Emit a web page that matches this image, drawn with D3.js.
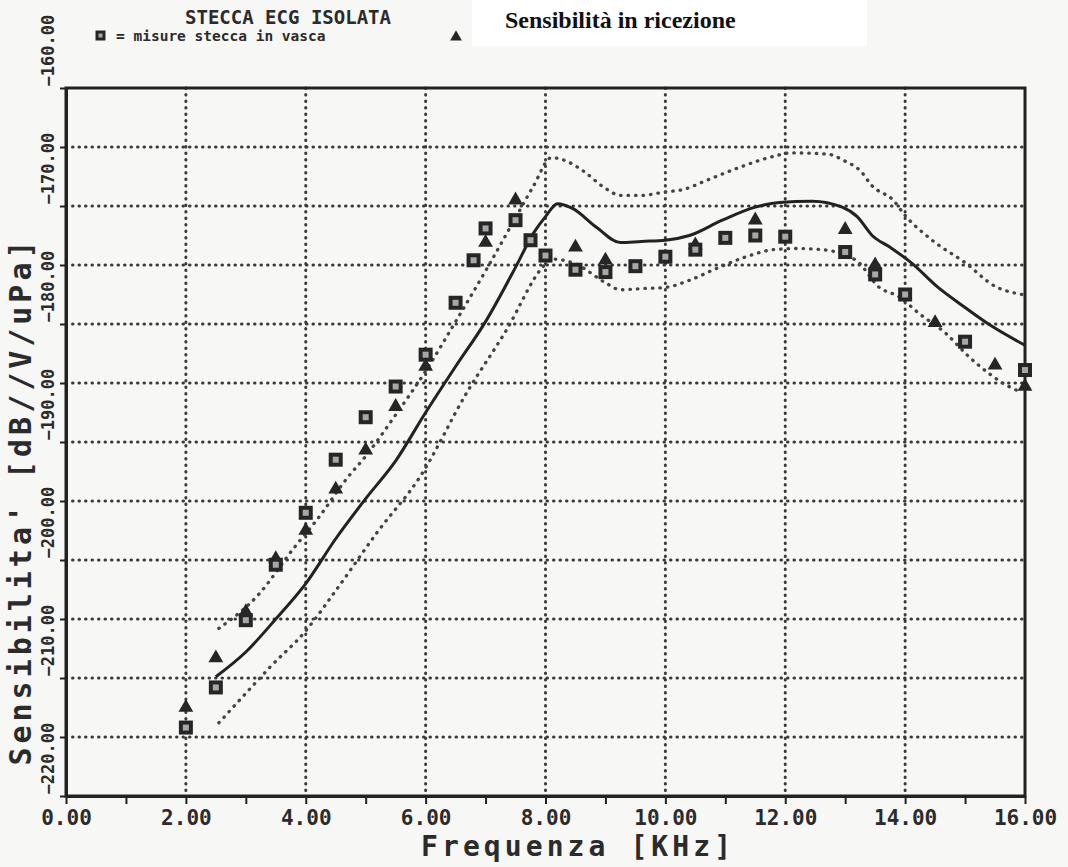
<!DOCTYPE html>
<html lang="it">
<head>
    <meta charset="UTF-8">
    <title>Sensibilità in ricezione</title>
    <script src="https://d3js.org/d3.v7.min.js"></script>
    <style>
        body{margin: 0; background: #f7f7f5}

        svg text{
            font-family: "DejaVu Sans Mono", "Liberation Mono", monospace;
            font-weight: bold;
            fill: #2b2b2b;
        }
        svg .grid line{
            stroke: #3a3a3a;
            stroke-width: 3;
            stroke-dasharray: 0.5 6;
            stroke-linecap: round;
        }
        svg .axis path.domain, svg .frame{
            fill: none;
            stroke: #222;
            stroke-width: 3;
        }
        svg .axis line{
            stroke: #222;
            stroke-width: 2;
        }
        svg .media{
            fill: none;
            stroke: #222;
            stroke-width: 3;
        }
        svg .banda{
            fill: none;
            stroke: #444;
            stroke-width: 3.3;
            stroke-dasharray: 0.5 7;
            stroke-linecap: round;
        }
        svg .quad{
            fill: #a8a8a8;
            stroke: #262626;
            stroke-width: 4;
        }
        svg .tri{
            fill: #262626;
        }
        svg text.titolo{
            font-family: "Liberation Serif", "DejaVu Serif", serif;
            fill: #111;
        }
    </style>
</head>
<body>
    <svg></svg>
    <script>
        // curva media (linea continua)
        var freqMedia = [2.5, 3, 3.5, 4, 4.5, 5, 5.5, 6, 6.5, 7, 7.5, 7.8, 8, 8.2, 8.45, 8.85, 9.25, 9.6, 10, 10.4,
            10.95, 11.5, 11.9, 12.45, 12.95, 13.2, 13.45, 13.75, 14.1, 14.55, 15, 15.45, 16]
        var sensMedia = [-209.9, -207.8, -205, -202, -198.2, -194.8, -191.6, -187.5, -183.6, -179.8, -175.2, -172.3, -170.9, -169.8, -170.2, -171.8, -173.1, -173, -172.9, -172.5,
            -171.2, -170.1, -169.7, -169.6, -170.1, -170.9, -172.5, -173.5, -174.8, -176.9, -178.6, -180.2, -181.8]

        // limite superiore (punteggiata)
        var freqSup = [2.55, 3.2, 3.8, 4.2, 4.7, 5, 5.5, 6, 6.5, 7, 7.5, 7.8, 8.1, 8.35, 8.62, 9, 9.25, 9.6, 10, 10.3,
            10.7, 11.2, 11.8, 12.1, 12.7, 13, 13.25, 13.45, 13.8, 14, 14.45, 15, 15.5, 15.95]
        var sensSup = [-205.8, -203, -199, -196.5, -193, -191.2, -187.7, -184, -179.8, -175.5, -171, -168.3, -165.9, -166.2, -167, -168.5, -169.1, -169.1, -168.8, -168.6,
            -167.8, -166.8, -165.8, -165.5, -165.6, -166.2, -167, -168.3, -169.5, -170.8, -172.9, -174.8, -176.8, -177.5]

        // limite inferiore (punteggiata)
        var freqInf = [2.55, 3, 3.4, 4, 4.5, 5.2, 5.9, 6.7, 7.35, 7.95, 8.1, 8.5, 9, 9.25, 9.6, 10, 10.4, 10.85, 11.35, 11.8,
            12.2, 12.62, 13.18, 13.57, 13.9, 14.23, 14.68, 15.07, 15.4, 15.73, 15.95]
        var sensInf = [-213.8, -211.3, -209.1, -206, -202.6, -197.6, -193, -185.7, -180.5, -175.2, -174.5, -174.9, -176.5, -177.1, -177, -176.9, -176.3, -175.3, -174.3, -173.7,
            -173.6, -173.7, -174.6, -176.9, -177.7, -179.1, -180.8, -182.8, -184.2, -185.3, -185.8]

        // misure stecca in vasca (quadrati)
        var quadF = [2, 2.5, 3, 3.5, 4, 4.5, 5, 5.5, 6, 6.5, 6.8, 7, 7.5, 7.75, 8, 8.5, 9, 9.5, 10, 10.5,
            11, 11.5, 12, 13, 13.5, 14, 15, 16]
        var quadDb = [-214.2, -210.8, -205.1, -200.4, -196, -191.5, -187.9, -185.3, -182.6, -178.2, -174.6, -171.9, -171.2, -172.9, -174.2, -175.4, -175.6, -175.1, -174.3, -173.7,
            -172.7, -172.5, -172.6, -173.9, -175.8, -177.5, -181.5, -183.9]

        // seconda serie di misure (triangoli)
        var triF = [2, 2.5, 3, 3.5, 4, 4.5, 5, 5.5, 6, 7, 7.5, 8.5, 9, 10.5, 11.5, 13, 13.5, 14.5, 15.5, 16]
        var triDb = [-212.5, -208.3, -204.4, -199.9, -197.5, -194, -190.7, -187, -183.6, -173.1, -169.5, -173.5, -174.6, -173.3, -171.2, -172, -175, -179.9, -183.5, -185.3]

        // tick
        var xTicks = d3.range(0, 17, 1)
        var yTicks = d3.range(-220, -159, 5)

        var W = 1068, H = 867
        var m = {left: 66, right: 1025, top: 88, bottom: 796}

        var svg = d3.select('svg')
            .attr('width', W)
            .attr('height', H)

        var x = d3.scaleLinear().domain([0, 16]).range([m.left, m.right])
        var y = d3.scaleLinear().domain([-220, -160]).range([m.bottom, m.top])

        // griglia punteggiata
        svg.append('g').attr('class', 'grid')
            .selectAll('line')
            .data(xTicks.filter(d => d % 2 === 0 && d > 0 && d < 16))
            .join('line')
            .attr('x1', d => x(d)).attr('x2', d => x(d))
            .attr('y1', m.top).attr('y2', m.bottom)
        svg.append('g').attr('class', 'grid')
            .selectAll('line')
            .data(yTicks.filter(d => d > -220 && d < -160))
            .join('line')
            .attr('x1', m.left).attr('x2', m.right)
            .attr('y1', d => y(d)).attr('y2', d => y(d))

        // cornice
        svg.append('rect').attr('class', 'frame')
            .attr('x', m.left).attr('y', m.top)
            .attr('width', m.right - m.left).attr('height', m.bottom - m.top)

        // assi
        var xAxis = d3.axisBottom(x)
            .tickValues(xTicks)
            .tickSize(8)
            .tickSizeOuter(0)
            .tickPadding(6)
            .tickFormat(d => d % 2 ? '' : d3.format('.2f')(d))
        svg.append('g').attr('class', 'axis')
            .attr('transform', `translate(0, ${m.bottom})`)
            .call(xAxis)
            .selectAll('text')
            .style('font-size', '21px')

        var yAxis = d3.axisLeft(y)
            .tickValues(yTicks)
            .tickSize(6)
            .tickSizeOuter(0)
            .tickFormat(d => d % 10 ? '' : d3.format('.2f')(d))
        svg.append('g').attr('class', 'axis')
            .attr('transform', `translate(${m.left}, 0)`)
            .call(yAxis)
            .selectAll('text')
            .style('font-size', '17px')
            .style('text-anchor', 'start')
            .attr('transform', 'rotate(-90)')
            .attr('x', 2)
            .attr('y', -12)
            .attr('dy', null)

        svg.selectAll('.axis text').style('fill', '#2b2b2b')

        // titoli assi
        svg.append('text')
            .attr('transform', 'translate(31, 503) rotate(-90)')
            .attr('text-anchor', 'middle')
            .attr('textLength', 525)
            .attr('lengthAdjust', 'spacing')
            .style('font-size', '30px')
            .text("Sensibilita' [dB//V/uPa]")
        svg.append('text')
            .attr('x', 576).attr('y', 856)
            .attr('text-anchor', 'middle')
            .attr('textLength', 310)
            .attr('lengthAdjust', 'spacing')
            .style('font-size', '28px')
            .text('Frequenza [KHz]')

        // curve
        var line = d3.line()
            .x(d => x(d[0]))
            .y(d => y(d[1]))
            .curve(d3.curveMonotoneX)

        svg.append('path').datum(d3.zip(freqSup, sensSup)).attr('class', 'banda').attr('d', line)
        svg.append('path').datum(d3.zip(freqInf, sensInf)).attr('class', 'banda').attr('d', line)
        svg.append('path').datum(d3.zip(freqMedia, sensMedia)).attr('class', 'media').attr('d', line)

        // misure
        var tri = d3.symbol().type(d3.symbolTriangle).size(95)
        svg.append('g').selectAll('path')
            .data(d3.zip(triF, triDb))
            .join('path')
            .attr('class', 'tri')
            .attr('d', tri)
            .attr('transform', d => `translate(${x(d[0])}, ${y(d[1])})`)
        svg.append('g').selectAll('rect')
            .data(d3.zip(quadF, quadDb))
            .join('rect')
            .attr('class', 'quad')
            .attr('x', d => x(d[0]) - 5)
            .attr('y', d => y(d[1]) - 5)
            .attr('width', 10)
            .attr('height', 10)

        // intestazione
        svg.append('text')
            .attr('x', 288).attr('y', 24)
            .attr('text-anchor', 'middle')
            .style('font-size', '19px')
            .text('STECCA ECG ISOLATA')
        svg.append('rect').attr('class', 'quad')
            .attr('x', 97).attr('y', 32).attr('width', 7).attr('height', 7)
            .style('stroke-width', 3)
        svg.append('text')
            .attr('x', 116).attr('y', 41)
            .style('font-size', '14.5px')
            .text('= misure stecca in vasca')
        svg.append('path').attr('class', 'tri')
            .attr('d', d3.symbol().type(d3.symbolTriangle).size(60))
            .attr('transform', 'translate(456, 37)')

        // etichetta incollata
        svg.append('rect')
            .attr('x', 472).attr('y', 0).attr('width', 395).attr('height', 46)
            .attr('fill', '#ffffff')
        svg.append('text')
            .attr('class', 'titolo')
            .attr('x', 505).attr('y', 28)
            .style('font-size', '24px')
            .text('Sensibilità in ricezione')
    </script>
</body>
</html>
